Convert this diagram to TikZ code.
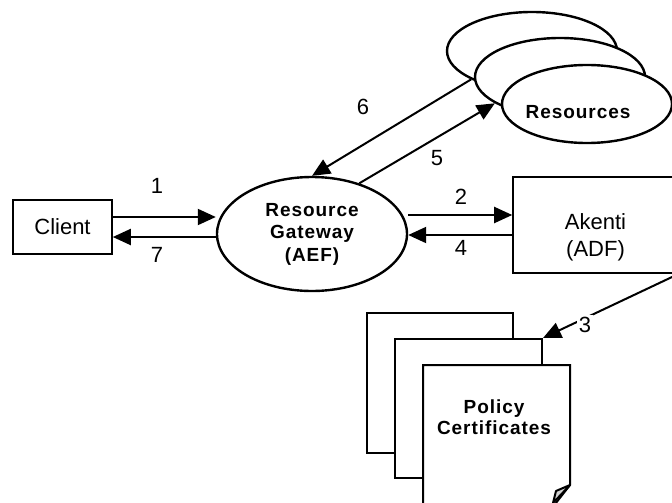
\documentclass[tikz,border=0pt]{standalone}
\usepackage{fontspec}
\setmainfont{Liberation Sans}
\newfontfamily\spacedfont{Liberation Sans}[LetterSpace=5]
\usetikzlibrary{arrows.meta,shapes.geometric}

\begin{document}
\begin{tikzpicture}[x=0.5pt,y=-0.5pt,
        every node/.style={font=\fontsize{11}{13.5}\selectfont},
        box/.style={draw,line width=0.8pt,fill=white,inner sep=0pt},
        oval/.style={ellipse,draw,line width=1.2pt,fill=white,inner sep=0pt},
        page/.style={draw,line width=1pt,fill=white,inner sep=0pt},
        boldtext/.style={font=\spacedfont\bfseries\fontsize{9.5}{11.25}\selectfont,align=center},
        link/.style={-{Triangle[length=9pt,width=8pt]},line width=1pt}]

        \useasboundingbox (0,0) rectangle (672,502);

        %===========================
        % Client and gateway
        %===========================
        \node (client) at (62.5,227) [box,minimum width=49.5pt,minimum height=27pt] {Client};
        \node (gw) at (312,234) [oval,minimum width=95pt,minimum height=57pt,boldtext] {Resource\\Gateway\\(AEF)};

        %===========================
        % Akenti
        %===========================
        \node (akenti) at (595.5,225) [box,minimum width=82.5pt,minimum height=48pt] {};
        \node at ([yshift=-6pt]akenti.center) [align=center] {Akenti\\(ADF)};

        %===========================
        % Resources
        %===========================
        \node (res1) at (532,51) [oval,minimum width=85pt,minimum height=39pt] {};
        \node (res2) at (560,77) [oval,minimum width=85pt,minimum height=39pt] {};
        \node (res3) at (587,104) [oval,minimum width=85pt,minimum height=39pt] {};
        \node at ([shift={(-9,8)}]res3.center) [boldtext] {Resources};

        %===========================
        % Policy certificates
        %===========================
        \node (pc1) at (440,383) [page,minimum width=73pt,minimum height=70pt] {};
        \node (pc2) at (468.5,408.5) [page,minimum width=73.5pt,minimum height=69.5pt] {};
        \draw[line width=1pt,fill=white] (423,365) -- (570,365) -- (570,485) -- (552,508) -- (423,508) -- cycle;
        \draw[line width=1pt,fill=gray!35,line join=round] (570,485) -- (556,491) -- (553,503) -- cycle;
        \node at (494,417) [boldtext,font=\spacedfont\bfseries\fontsize{9.5}{10.5}\selectfont] {Policy\\Certificates};

        %===========================
        % Messages
        %===========================
        \draw[link] ([yshift=5pt]client.east) -- ([yshift=5pt]client.east -| gw.west);
        \draw[link] ([yshift=-5pt]client.east -| gw.west) -- ([yshift=-5pt]client.east);
        \draw[link] ([yshift=5pt]akenti.west -| gw.east) -- ([yshift=5pt]akenti.west);
        \draw[link] ([yshift=-5pt]akenti.west) -- ([yshift=-5pt]akenti.west -| gw.east);
        \draw[link] (gw.47) -- (res2.202);
        \draw[link] (res1.205) -- (gw.north);
        \draw[link] (akenti.south east) -- (pc2.north east);

        \node at (157,186) {1};
        \node at (461,197) {2};
        \node at (585,325) [fill=white,inner sep=1pt] {3};
        \node at (461,248) {4};
        \node at (437,158) {5};
        \node at (363,107) {6};
        \node at (157,255) {7};

\end{tikzpicture}
\end{document}
